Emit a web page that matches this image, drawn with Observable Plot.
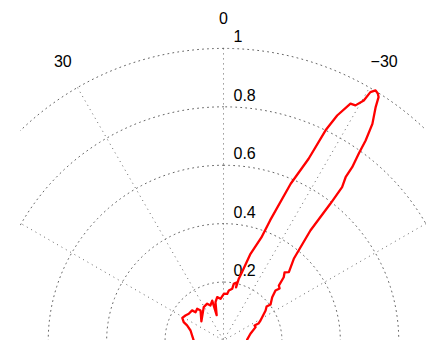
<!DOCTYPE html>
<html>
<head>
<meta charset="utf-8">
<script src="https://cdn.jsdelivr.net/npm/d3@7"></script>
<script src="https://cdn.jsdelivr.net/npm/@observablehq/plot@0.6"></script>
<style>
  html, body { margin: 0; padding: 0; background: #fff; }
</style>
</head>
<body>
<script>
// Pattern: angle in degrees (0 = up, positive to the left), linear gain
const theta = [95, 90, 80.9, 73.1, 67.5, 65.3, 61.2, 56.7, 52.4, 46.2,
  44.7, 39.7, 37.5, 49.2, 30.6, 23.9, 20.4, 15.8, 15.1, 11.8,
  8.3, 4.1, -0.4, -4.5, -6.1, -9.6, -10.3, -13.2, -13.3, -13.9,
  -15.0, -17.3, -20.2, -21.2, -23.2, -25.1, -25.9, -26.8, -28.2, -29.3,
  -30.3, -30.6, -31.3, -32.0, -32.5, -33.1, -34.5, -35.4, -35.9, -36.6,
  -36.8, -37.7, -38.0, -38.3, -40.7, -43.7, -41.9, -43.6, -45.2, -47.1,
  -46.1, -48.4, -52.5, -51.7, -54.5, -61.6, -64.1, -64.2, -67.4, -76.0,
  -88, -95];
const gain = [0.10, 0.102, 0.109, 0.118, 0.135, 0.150, 0.161, 0.156, 0.150, 0.149,
  0.136, 0.141, 0.129, 0.100, 0.133, 0.138, 0.128, 0.142, 0.090, 0.134,
  0.150, 0.143, 0.160, 0.160, 0.172, 0.180, 0.197, 0.205, 0.187, 0.218,
  0.238, 0.311, 0.376, 0.441, 0.584, 0.687, 0.800, 0.863, 0.920, 0.923,
  0.952, 0.988, 1.002, 0.997, 0.988, 0.954, 0.900, 0.840, 0.790, 0.739,
  0.698, 0.664, 0.595, 0.480, 0.369, 0.324, 0.313, 0.299, 0.267, 0.262,
  0.247, 0.223, 0.203, 0.188, 0.177, 0.144, 0.133, 0.118, 0.119, 0.095,
  0.081, 0.08];

const ringTicks = [0.2, 0.4, 0.6, 0.8, 1];
const ringLabels = ["0.2", "0.4", "0.6", "0.8", "1"];
const spokeAngles = [0, 30, 60, 90, 120, 150];
const angleTicks = [0, 30, -30];
const angleLabels = ["0", "30", "\u221230"];

const rad = d => d * Math.PI / 180;
const rmax = 1;

const pattern = theta.map((t, i) => ({t, r: gain[i]}));
const ringPts = ringTicks.flatMap(r => d3.range(0, 361, 1).map(a => ({r, a})));
const spokes = spokeAngles.map(a => ({a}));

const chart = Plot.plot({
  width: 430,
  height: 340,
  marginLeft: 20,
  marginRight: 4,
  marginTop: 0,
  marginBottom: 0,
  x: {domain: [-0.695, 0.695], axis: null},
  y: {domain: [0, 1.164], axis: null},
  style: {fontFamily: "'Liberation Sans', Arial, Helvetica, sans-serif", background: "#fff", overflow: "visible"},
  marks: [
    Plot.line(ringPts, {
      x: d => -d.r * Math.sin(rad(d.a)), y: d => d.r * Math.cos(rad(d.a)), z: "r",
      stroke: "#666", strokeWidth: 1, strokeDasharray: "1,4", clip: true
    }),
    Plot.link(spokes, {
      x1: d => -rmax * Math.sin(rad(d.a)), y1: d => rmax * Math.cos(rad(d.a)),
      x2: d => rmax * Math.sin(rad(d.a)), y2: d => -rmax * Math.cos(rad(d.a)),
      stroke: "#666", strokeWidth: 1, strokeDasharray: "1,4", clip: true
    }),
    Plot.text(ringTicks, {
      x: () => 0, y: d => d, text: (d, i) => ringLabels[i],
      dx: 10, dy: -6, textAnchor: "start", lineAnchor: "bottom",
      fontSize: 16, fill: "#000"
    }),
    Plot.text(angleTicks, {
      x: d => -1.1 * rmax * Math.sin(rad(d)), y: d => 1.1 * rmax * Math.cos(rad(d)),
      text: (d, i) => angleLabels[i],
      textAnchor: "middle", lineAnchor: "middle", fontSize: 16, fill: "#000"
    }),
    Plot.line(pattern, {
      x: d => -d.r * Math.sin(rad(d.t)), y: d => d.r * Math.cos(rad(d.t)),
      stroke: "#ff0000", strokeWidth: 2.3, strokeLinejoin: "round", clip: true
    })
  ]
});
document.body.appendChild(chart);
</script>
</body>
</html>
